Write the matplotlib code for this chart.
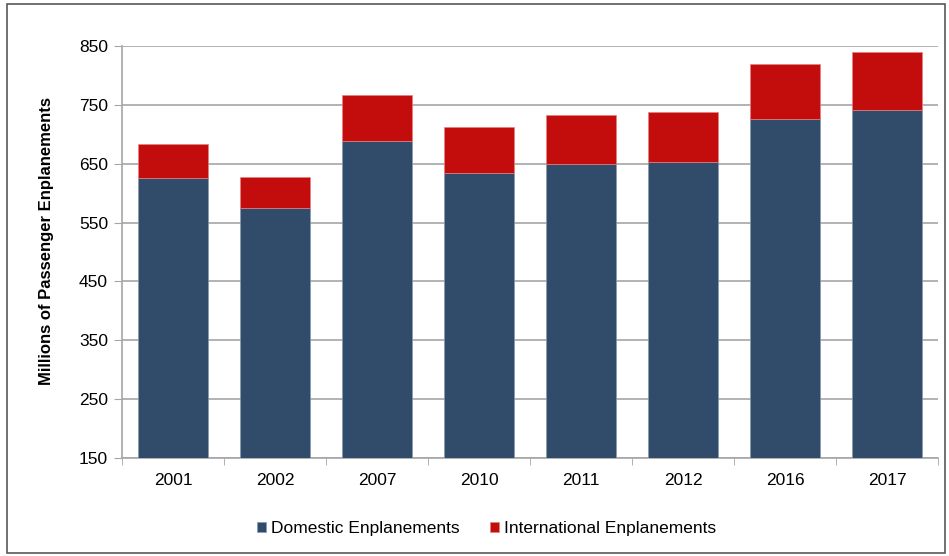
import matplotlib.pyplot as plt
import numpy as np
from matplotlib.patches import Rectangle

plt.rcParams['font.family'] = ['Liberation Sans', 'DejaVu Sans']

years = ['2001', '2002', '2007', '2010', '2011', '2012', '2016', '2017']
domestic = [626, 575, 689, 635, 650, 653, 726, 742]
total = [683, 627, 766, 712, 732, 738, 819, 840]
international = [t - d for t, d in zip(total, domestic)]

blue = '#314B6A'
red = '#C30D0D'

fig = plt.figure(figsize=(9.49, 5.56), dpi=100)
ax = fig.add_axes([122 / 949, 1 - 458 / 556, (938 - 122) / 949, (458 - 46) / 556])

x = np.arange(len(years))
ax.bar(x, domestic, width=0.68, color=blue, edgecolor='#8A9AB0', linewidth=0.5,
       zorder=3, label='Domestic Enplanements')
ax.bar(x, international, width=0.68, bottom=domestic, color=red, edgecolor='#E88080',
       linewidth=0.5, zorder=3, label='International Enplanements')

ax.set_ylim(150, 850)
ax.set_xlim(-0.5, len(years) - 0.5)
ax.set_yticks(range(150, 851, 100))
ax.yaxis.grid(True, color='#A6A6A6', linewidth=1.2, zorder=0)
ax.set_axisbelow(True)

ax.set_xticks(x)
ax.set_xticklabels(years, fontsize=12.5)
ax.set_xticks(np.arange(-0.5, len(years)), minor=True)
ax.tick_params(axis='x', which='major', length=0, pad=11)
ax.tick_params(axis='x', which='minor', length=5, color='#A6A6A6', direction='out')
ax.tick_params(axis='y', length=6, color='#A6A6A6', labelsize=12.5, pad=4)

for side in ['top', 'right']:
    ax.spines[side].set_visible(False)
for side in ['left', 'bottom']:
    ax.spines[side].set_color('#A6A6A6')
    ax.spines[side].set_linewidth(1.2)

ax.set_ylabel('Millions of Passenger Enplanements', fontsize=12, fontweight='bold')
ax.yaxis.set_label_coords(-0.0834, 0.527)

ax.legend(loc='upper center', bbox_to_anchor=(0.5 - 43.5 / 816, -0.115), ncol=2, frameon=False,
          fontsize=12.5, handlelength=0.55, handleheight=0.55, handletextpad=0.3, columnspacing=1.7)

fig.patches.append(Rectangle((7 / 949, 3 / 556), 938 / 949, 549 / 556, transform=fig.transFigure,
                             fill=False, edgecolor='#595959', linewidth=1.2))

fig.savefig('out.png', dpi=100)
